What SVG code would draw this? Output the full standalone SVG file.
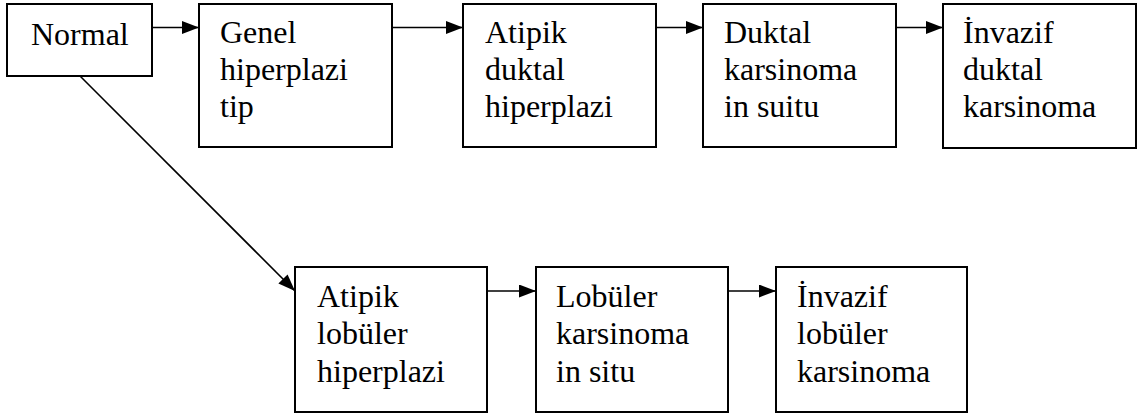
<svg xmlns="http://www.w3.org/2000/svg" width="1141" height="416" viewBox="0 0 1141 416">
<style>
.box{fill:#fff;stroke:#000;stroke-width:2}
.t{font-family:'Liberation Serif','Times New Roman','DejaVu Serif',serif;font-size:32px;fill:#000}
.c{stroke:#000;stroke-width:1.6;fill:none}
</style>
<defs>
<marker id="ah" markerUnits="userSpaceOnUse" markerWidth="18" markerHeight="14" refX="17" refY="6.5" orient="auto">
<path d="M0,0 L17,6.5 L0,13 Z" fill="#000"/>
</marker>
</defs>
<rect width="1141" height="416" fill="#fff"/>
<g id="connectors">
<line class="c" x1="152" y1="27.5" x2="199" y2="27.5" marker-end="url(#ah)"/>
<line class="c" x1="392" y1="27.5" x2="463" y2="27.5" marker-end="url(#ah)"/>
<line class="c" x1="656" y1="27.5" x2="703" y2="27.5" marker-end="url(#ah)"/>
<line class="c" x1="896" y1="27.5" x2="943" y2="27.5" marker-end="url(#ah)"/>
<line class="c" x1="80" y1="76" x2="295" y2="291" marker-end="url(#ah)"/>
<line class="c" x1="487" y1="291" x2="536" y2="291" marker-end="url(#ah)"/>
<line class="c" x1="728" y1="291" x2="776" y2="291" marker-end="url(#ah)"/>
</g>
<g id="normal">
<rect class="box" x="7" y="4" width="145" height="72"/>
<text class="t" x="31" y="45">Normal</text>
</g>
<g id="genel">
<rect class="box" x="199" y="4" width="193" height="143"/>
<text class="t" x="220" y="43">Genel</text>
<text class="t" x="220" y="80">hiperplazi</text>
<text class="t" x="220" y="117">tip</text>
</g>
<g id="atipik-duktal">
<rect class="box" x="463" y="4" width="193" height="143"/>
<text class="t" x="485" y="43">Atipik</text>
<text class="t" x="485" y="80">duktal</text>
<text class="t" x="485" y="117">hiperplazi</text>
</g>
<g id="duktal-karsinoma">
<rect class="box" x="703" y="4" width="193" height="143"/>
<text class="t" x="724" y="43">Duktal</text>
<text class="t" x="724" y="80">karsinoma</text>
<text class="t" x="724" y="117">in suitu</text>
</g>
<g id="invazif-duktal">
<rect class="box" x="943" y="4" width="193" height="144"/>
<text class="t" x="963" y="43">İnvazif</text>
<text class="t" x="963" y="80">duktal</text>
<text class="t" x="963" y="117">karsinoma</text>
</g>
<g id="atipik-lobuler">
<rect class="box" x="295" y="267" width="192" height="145"/>
<text class="t" x="317" y="307">Atipik</text>
<text class="t" x="317" y="344">lobüler</text>
<text class="t" x="317" y="382">hiperplazi</text>
</g>
<g id="lobuler-karsinoma">
<rect class="box" x="536" y="267" width="192" height="145"/>
<text class="t" x="556" y="307">Lobüler</text>
<text class="t" x="556" y="344">karsinoma</text>
<text class="t" x="556" y="382">in situ</text>
</g>
<g id="invazif-lobuler">
<rect class="box" x="776" y="267" width="191" height="145"/>
<text class="t" x="797" y="307">İnvazif</text>
<text class="t" x="797" y="344">lobüler</text>
<text class="t" x="797" y="382">karsinoma</text>
</g>
</svg>
